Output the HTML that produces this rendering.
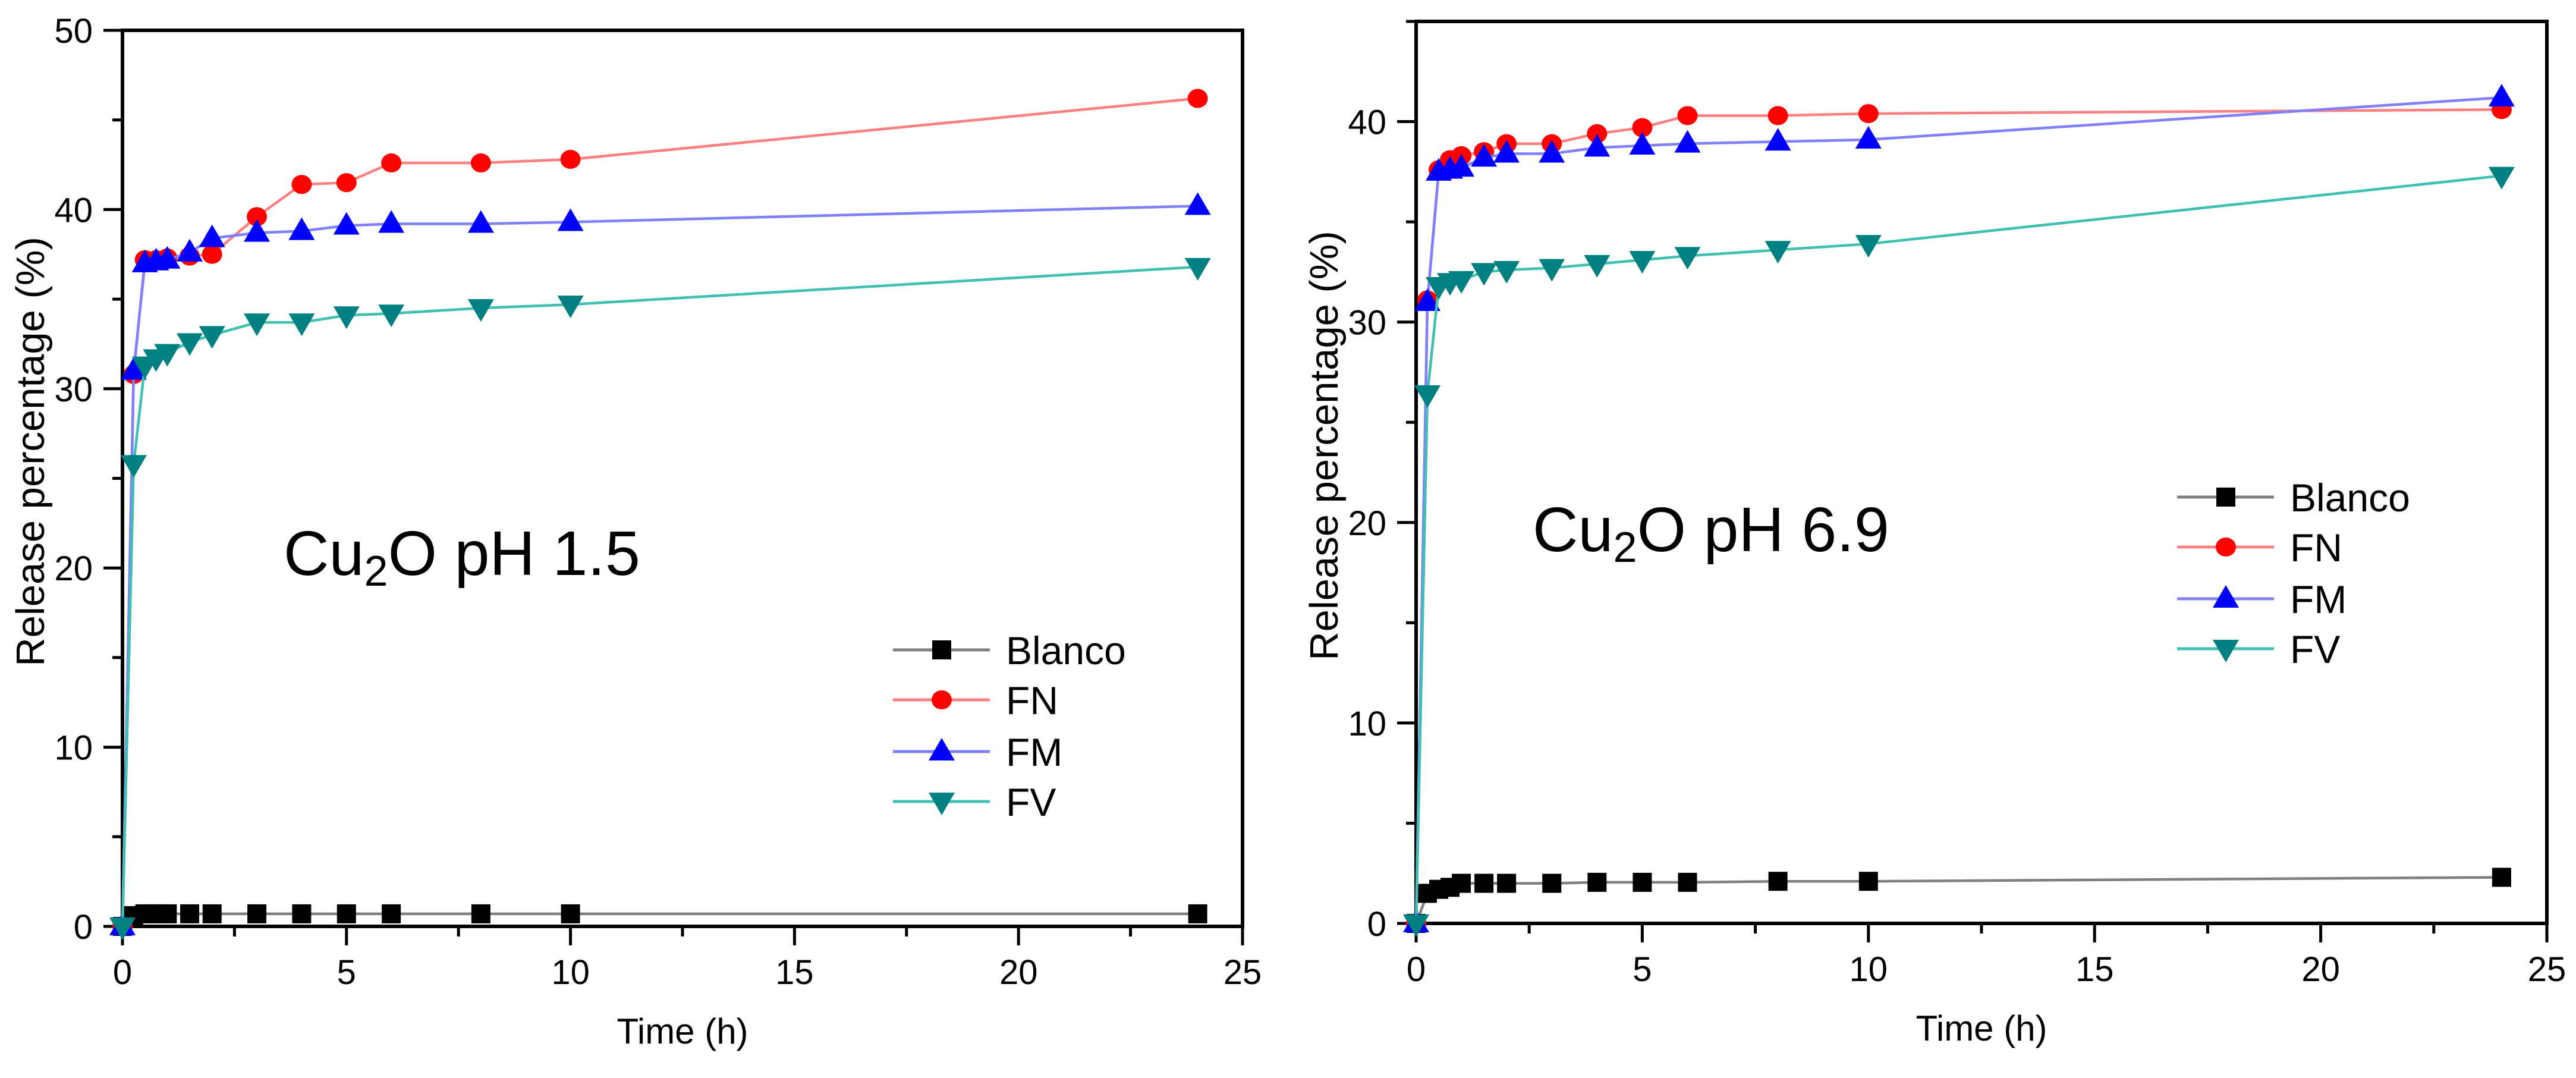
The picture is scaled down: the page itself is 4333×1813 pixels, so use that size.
<!DOCTYPE html>
<html><head><meta charset="utf-8"><style>
html,body{margin:0;padding:0;background:#fff;}
svg{display:block;font-family:"Liberation Sans",Arial,sans-serif;}
</style></head><body>
<svg id="chart" width="4333" height="1813" viewBox="0 0 4333 1813" xmlns="http://www.w3.org/2000/svg"></svg>
<script>
const times = [0, 0.25, 0.5, 0.75, 1, 1.5, 2, 3, 4, 5, 6, 8, 10, 24];
const leftBlanco = [0, 0.6, 0.7, 0.7, 0.7, 0.7, 0.7, 0.7, 0.7, 0.7, 0.7, 0.7, 0.7, 0.7];
const leftFN = [0, 30.8, 37.2, 37.2, 37.3, 37.4, 37.5, 39.6, 41.4, 41.5, 42.6, 42.6, 42.8, 46.2];
const leftFM = [0, 31.0, 37.0, 37.1, 37.2, 37.6, 38.4, 38.7, 38.8, 39.1, 39.2, 39.2, 39.3, 40.2];
const leftFV = [0, 25.8, 31.3, 31.7, 32.0, 32.6, 33.0, 33.7, 33.7, 34.1, 34.2, 34.5, 34.7, 36.8];
const rightBlanco = [0, 1.5, 1.7, 1.8, 2.0, 2.0, 2.0, 2.0, 2.05, 2.05, 2.05, 2.1, 2.1, 2.3];
const rightFN = [0, 31.1, 37.6, 38.1, 38.3, 38.5, 38.9, 38.9, 39.4, 39.7, 40.3, 40.3, 40.4, 40.6];
const rightFM = [0, 31.0, 37.5, 37.6, 37.7, 38.2, 38.4, 38.4, 38.7, 38.8, 38.9, 39.0, 39.1, 41.2];
const rightFV = [0, 26.4, 31.8, 32.0, 32.1, 32.5, 32.6, 32.7, 32.9, 33.1, 33.3, 33.6, 33.9, 37.3];
const xTicks = [0, 5, 10, 15, 20, 25];
const leftYTicks = [0, 10, 20, 30, 40, 50];
const rightYTicks = [0, 10, 20, 30, 40];
const seriesNames = ["Blanco", "FN", "FM", "FV"];

const NS = "http://www.w3.org/2000/svg";
const svg = document.getElementById("chart");
function mk(tag, attrs, parent) {
  const e = document.createElementNS(NS, tag);
  for (const k in attrs) e.setAttribute(k, attrs[k]);
  (parent || svg).appendChild(e);
  return e;
}
const styles = {
  Blanco: {line: "#808080", fill: "#000000", shape: "square"},
  FN: {line: "#ff8080", fill: "#ff0000", shape: "circle"},
  FM: {line: "#8080ff", fill: "#0000ff", shape: "up"},
  FV: {line: "#40c0b0", fill: "#008080", shape: "down"}
};
function marker(g, shape, x, y, fill, name) {
  let m;
  if (shape === "square") m = mk("rect", {x: x - 16, y: y - 16, width: 32, height: 32, fill: fill}, g);
  else if (shape === "circle") m = mk("ellipse", {cx: x, cy: y, rx: 17, ry: 16, fill: fill}, g);
  else if (shape === "up") m = mk("polygon", {points: `${x},${y - 23} ${x - 22},${y + 15} ${x + 22},${y + 15}`, fill: fill}, g);
  else m = mk("polygon", {points: `${x},${y + 23} ${x - 22},${y - 15} ${x + 22},${y - 15}`, fill: fill}, g);
  
  
  return m;
}

function panel(cfg) {
  const {x0, x1, y0, y1, ymax, yTicks, data, label, legX, legY, annX, annY, prefix} = cfg;
  const g = mk("g", {});
  
  
  const sx = v => x0 + (x1 - x0) * v / 25;
  const sy = v => y0 - (y0 - y1) * v / ymax;
  const fr = mk("rect", {x: x0, y: y1, width: x1 - x0, height: y0 - y1, fill: "none", stroke: "#000", "stroke-width": 6}, g);
  
  
  for (let v = 0; v <= 25; v += 2.5) {
    const major = v % 5 === 0;
    mk("line", {x1: sx(v), x2: sx(v), y1: y0, y2: y0 + (major ? 32 : 17), stroke: "#000", "stroke-width": 5}, g);
  }
  xTicks.forEach(v => {
    const t = mk("text", {x: sx(v), y: y0 + 97, "font-size": 58, "text-anchor": "middle", fill: "#000"}, g);
    t.textContent = v;
    
    
  });
  for (let v = 0; v <= ymax; v += 5) {
    const major = v % 10 === 0;
    mk("line", {x1: x0, x2: x0 - (major ? 32 : 17), y1: sy(v), y2: sy(v), stroke: "#000", "stroke-width": 5}, g);
  }
  yTicks.forEach(v => {
    const t = mk("text", {x: x0 - 50, y: sy(v) + 21, "font-size": 58, "text-anchor": "end", fill: "#000"}, g);
    t.textContent = v;
    
    
  });
  const xt = mk("text", {x: (x0 + x1) / 2, y: y0 + 197, "font-size": 60, "text-anchor": "middle", fill: "#000"}, g);
  xt.textContent = "Time (h)";
  
  
  const yx = x0 - 132, yy = (y0 + y1) / 2 - 45;
  const yt = mk("text", {x: yx, y: yy, "font-size": 67, "text-anchor": "middle", fill: "#000", transform: `rotate(-90 ${yx} ${yy})`}, g);
  yt.textContent = "Release percentage (%)";
  
  
  const an = mk("text", {x: annX, y: annY, "font-size": 106, fill: "#000"}, g);
  
  
  an.innerHTML = 'Cu<tspan font-size="72" dy="18">2</tspan><tspan dy="-18">O pH ' + label + '</tspan>';
  seriesNames.forEach((name, si) => {
    const st = styles[name];
    const vals = data[si];
    const sg = mk("g", {}, g);
    
    
    const pts = times.map((t, i) => sx(t) + "," + sy(vals[i])).join(" ");
    const pl = mk("polyline", {points: pts, fill: "none", stroke: st.line, "stroke-width": 4.5}, sg);
    
    
    times.forEach((t, i) => marker(sg, st.shape, sx(t), sy(vals[i]), st.fill, prefix + '-point-' + name.toLowerCase()));
  });
  const lg = mk("g", {}, g);
  
  
  const rowY = [0, 84, 171, 255];
  seriesNames.forEach((name, si) => {
    const st = styles[name];
    const y = legY + rowY[si];
    const le = mk("g", {}, lg);
    
    
    mk("line", {x1: legX, x2: legX + 163, y1: y, y2: y, stroke: st.line, "stroke-width": 5}, le);
    marker(le, st.shape, legX + 82, y, st.fill, prefix + '-legend-marker');
    const t = mk("text", {x: legX + 190, y: y + 24, "font-size": 66, fill: "#000"}, le);
    t.textContent = name;
  });
}

panel({x0: 206, x1: 2090, y0: 1558, y1: 51, ymax: 50, yTicks: leftYTicks,
  data: [leftBlanco, leftFN, leftFM, leftFV], label: "1.5", legX: 1502, legY: 1093,
  annX: 477, annY: 967, prefix: "left"});
panel({x0: 2382, x1: 4284, y0: 1553, y1: 36, ymax: 45, yTicks: rightYTicks,
  data: [rightBlanco, rightFN, rightFM, rightFV], label: "6.9", legX: 3662, legY: 836,
  annX: 2578, annY: 927, prefix: "right"});
</script>
</body></html>
